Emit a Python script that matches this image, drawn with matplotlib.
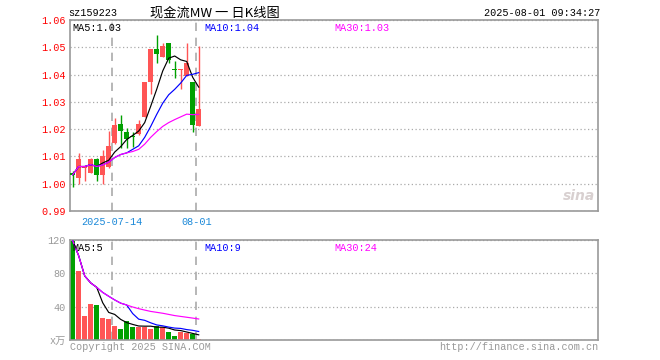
import matplotlib
matplotlib.use('Agg')
import matplotlib.pyplot as plt

plt.rcParams['font.family'] = ['Liberation Mono', 'Noto Sans CJK SC', 'DejaVu Sans']
plt.rcParams['axes.unicode_minus'] = False

# 日K数据 (2025-07-03 .. 2025-08-01)
opens = [1.0040, 1.0021, 1.0057, 1.0040, 1.0092, 1.0032, 1.0061, 1.0151, 1.0220, 1.0191, 1.0176,
         1.0181, 1.0245, 1.0373, 1.0493, 1.0466, 1.0515, 1.0422, 1.0415, 1.0395, 1.0371, 1.0212]
closes = [1.0033, 1.0092, 1.0064, 1.0092, 1.0032, 1.0100, 1.0140, 1.0214, 1.0193, 1.0165, 1.0171,
          1.0220, 1.0373, 1.0493, 1.0475, 1.0503, 1.0454, 1.0415, 1.0422, 1.0444, 1.0214, 1.0273]
highs = [1.0047, 1.0111, 1.0065, 1.0096, 1.0096, 1.0122, 1.0193, 1.0242, 1.0251, 1.0203, 1.0191,
         1.0233, 1.0373, 1.0493, 1.0545, 1.0515, 1.0515, 1.0450, 1.0422, 1.0515, 1.0371, 1.0503]
lows = [0.9989, 0.9998, 1.0010, 1.0038, 1.0010, 1.0000, 1.0059, 1.0145, 1.0132, 1.0132, 1.0136,
        1.0178, 1.0245, 1.0328, 1.0444, 1.0463, 1.0444, 1.0389, 1.0348, 1.0395, 1.0190, 1.0212]

ma5 = [1.0033, 1.0063, 1.0063, 1.0070, 1.0063, 1.0076, 1.0086, 1.0116, 1.0136, 1.0162, 1.0177,
       1.0193, 1.0224, 1.0284, 1.0346, 1.0413, 1.0460, 1.0468, 1.0454, 1.0448, 1.0390, 1.0354]
ma10 = [1.0033, 1.0063, 1.0063, 1.0070, 1.0063, 1.0069, 1.0079, 1.0096, 1.0107, 1.0113, 1.0126,
        1.0139, 1.0170, 1.0210, 1.0254, 1.0295, 1.0326, 1.0346, 1.0369, 1.0397, 1.0401, 1.0407]
ma30 = [1.0033, 1.0063, 1.0063, 1.0070, 1.0063, 1.0069, 1.0079, 1.0096, 1.0107, 1.0113, 1.0118,
        1.0126, 1.0145, 1.0170, 1.0191, 1.0210, 1.0224, 1.0235, 1.0245, 1.0255, 1.0253, 1.0254]

# 成交量 (万)
vol = [119, 83, 28.8, 43.2, 42, 26.4, 25.2, 16.8, 13.2, 22.8, 15.6,
       15.6, 15.6, 13.2, 16.8, 15.6, 9.6, 4.8, 9.6, 8.4, 7.2, 1.2]
vma5 = [119, 101, 76.9, 68.5, 63.2, 44.7, 33.1, 30.7, 24.7, 20.9, 18.7,
        16.8, 16.6, 16.6, 15.4, 15.4, 14.2, 12.0, 11.3, 9.6, 7.9, 6.2]
vma10 = [119, 101, 76.9, 68.5, 63.2, 57.1, 52.5, 48.1, 44.2, 42.0, 31.7,
         25.0, 23.6, 20.6, 18.1, 17.0, 15.5, 14.3, 13.9, 12.5, 11.6, 10.2]
vma30 = [119, 101, 76.9, 68.5, 63.2, 57.1, 52.5, 48.1, 44.2, 42.0, 39.6,
         37.6, 35.9, 34.3, 33.2, 32.1, 30.7, 29.3, 28.3, 27.3, 26.3, 25.2]

date_idx = [7, 21]
date_labels = ['2025-07-14', '08-01']
price_ticks = [0.99, 1.00, 1.01, 1.02, 1.03, 1.04, 1.05, 1.06]
vol_ticks = [0, 40, 80, 120]
vol_tick_labels = ['x万', '40', '80', '120']

RED = '#ff5555'
GREEN = '#00a000'
BORDER = '#999999'
GRID = '#aaaaaa'
DATE_BLUE = '#1a88d8'

x = list(range(len(closes)))
colors = [RED if c >= o else GREEN for o, c in zip(opens, closes)]
date_pos = [i - 0.4 for i in date_idx]

fig = plt.figure(figsize=(6.6, 3.6), dpi=100)
ax = fig.add_axes([70/660, 1-211/360, 528/660, 191/360])
axv = fig.add_axes([70/660, 1-340/360, 528/660, 100/360])

for a in (ax, axv):
    a.set_xlim(-0.45, 87.55)
    for s in a.spines.values():
        s.set_color(BORDER)
        s.set_linewidth(1.2)
    a.set_xticks(date_pos)
    a.tick_params(length=0)
    a.grid(axis='x', color=GRID, linestyle=(0, (5, 4)), linewidth=1.2)
    a.grid(axis='y', color=GRID, linestyle=(0, (1, 2)), linewidth=0.9)
    a.set_axisbelow(True)

# K线
ax.vlines(x, lows, highs, colors=colors, linewidth=1.0, zorder=2)
bottoms = [min(o, c) for o, c in zip(opens, closes)]
heights = [max(abs(c - o), 0.00008) for o, c in zip(opens, closes)]
ax.bar(x, heights, bottom=bottoms, width=0.8, color=colors, linewidth=0, zorder=3)
ax.plot(x, ma5, color='black', linewidth=0.85, zorder=4)
ax.plot(x, ma10, color='#0000ff', linewidth=0.85, zorder=4)
ax.plot(x, ma30, color='#ff00ff', linewidth=0.85, zorder=4)

ax.set_ylim(0.99, 1.06)
ax.set_yticks(price_ticks)
ax.set_yticklabels([f'{t:.2f}' for t in price_ticks])
ax.tick_params(axis='y', colors='#ff0000', labelsize=7.3, pad=3)
ax.set_xticklabels(date_labels)
ax.tick_params(axis='x', colors=DATE_BLUE, labelsize=7.3, pad=4)

ax.text(0.004, 0.985, 'MA5:1.03', transform=ax.transAxes, color='black', fontsize=7.3, va='top')
ax.text(0.255, 0.985, 'MA10:1.04', transform=ax.transAxes, color='#0000ff', fontsize=7.3, va='top')
ax.text(0.5, 0.985, 'MA30:1.03', transform=ax.transAxes, color='#ff00ff', fontsize=7.3, va='top')
ax.text(0.995, 0.04, 'sina', transform=ax.transAxes, color='#d8d0d0', fontsize=10,
        fontweight='bold', style='italic', family='DejaVu Sans', ha='right', va='bottom')

# 成交量
axv.bar(x, vol, width=0.8, color=colors, linewidth=0, zorder=2)
axv.plot(x, vma5, color='black', linewidth=0.85, zorder=3)
axv.plot(x, vma10, color='#0000ff', linewidth=0.85, zorder=3)
axv.plot(x, vma30, color='#ff00ff', linewidth=0.85, zorder=3)
axv.set_ylim(0, 120)
axv.set_yticks(vol_ticks)
axv.set_yticklabels(vol_tick_labels)
axv.tick_params(axis='y', colors='#999999', labelsize=7.3, pad=3)
axv.set_xticklabels([])

axv.text(0.004, 0.97, 'MA5:5', transform=axv.transAxes, color='black', fontsize=7.3, va='top')
axv.text(0.255, 0.97, 'MA10:9', transform=axv.transAxes, color='#0000ff', fontsize=7.3, va='top')
axv.text(0.5, 0.97, 'MA30:24', transform=axv.transAxes, color='#ff00ff', fontsize=7.3, va='top')

# 标题与页脚
fig.text(68/660, 1-13/360, 'sz159223', color='black', fontsize=7.3, va='center')
fig.text(150/660, 1-13/360, '现金流MW 一 日K线图', color='black', fontsize=9.5,
         family=['Noto Sans CJK SC'], va='center')
fig.text(600/660, 1-13/360, '2025-08-01 09:34:27', color='black', fontsize=7.3,
         va='center', ha='right')
fig.text(70/660, 1-347/360, 'Copyright 2025 SINA.COM', color='#999999', fontsize=7.3, va='center')
fig.text(598/660, 1-347/360, 'http://finance.sina.com.cn', color='#999999', fontsize=7.3,
         va='center', ha='right')

fig.savefig('out.png', dpi=100)
